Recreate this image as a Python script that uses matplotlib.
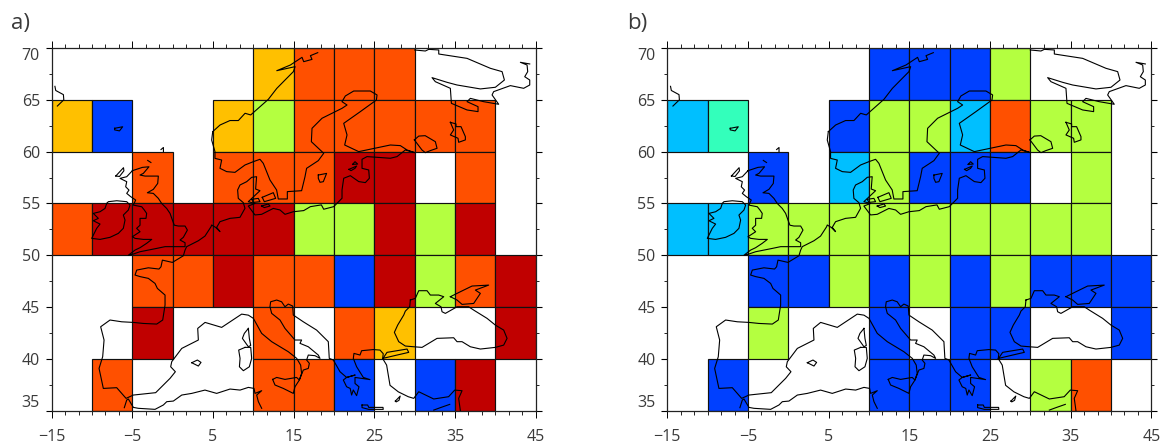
import matplotlib
matplotlib.use("Agg")
import matplotlib.pyplot as plt
from matplotlib.patches import Rectangle
from matplotlib.ticker import MultipleLocator, FixedLocator

lon_starts = [-15, -10, -5, 0, 5, 10, 15, 20, 25, 30, 35, 40]
lat_starts = [65, 60, 55, 50, 45, 40, 35]
cell_size = 5
x_major = [-15, -5, 5, 15, 25, 35, 45]
y_major = [35, 40, 45, 50, 55, 60, 65, 70]

palette = {"A": "#FFC000", "O": "#FF5000", "R": "#C00000", "G": "#B4FF40",
           "B": "#0040FF", "C": "#00BFFF", "Q": "#33FFBB"}

panel_a = ["     AOOO   ",
           "AB  AGOOOOO ",
           "  O OOORR O ",
           "ORRRRRGGRGR ",
           "  OOROOBRGOR",
           "  R  O OA  R",
           " O   OOB BR "]
panel_b = ["     BBBG   ",
           "CQ  BGGCOGG ",
           "  B CGBBB G ",
           "CCGGGGGGGGG ",
           "  BBGBGBGBBB",
           "  G  B BB  B",
           " B   BBB GO "]

iceland = [(-14.6,66.3),(-14.5,65.9),(-13.55,65.5),(-13.5,65),(-14.3,64.4)]
faroe = [(-7.2,62.25),(-6.2,62.4),(-6.6,62.0),(-7.2,62.1),(-7.2,62.25)]
shetland = [(-1.45,60.2),(-1.15,60.4),(-1.15,60.0)]
hebrides = [(-7.05,57.65),(-6.1,58.45),(-6.05,58.15),(-6.6,57.6),(-7.05,57.65)]
orkney = [(-3.1,59.15),(-2.7,58.95)]
britain = [(-5.0,58.16),(-3.76,58.48),(-2.94,58.54),(-3.64,57.9),(-4.05,57.74),(-3.43,57.64),
           (-1.78,57.64),(-1.86,56.93),(-2.4,56.36),(-3.14,56.03),(-2.4,55.97),(-1.78,55.49),
           (-1.37,55.0),(-0.75,54.52),(-0.33,54.04),(-0.04,53.4),(0.2,52.9),(0.7,52.82),
           (1.53,52.82),(1.82,52.43),(1.32,51.73),(0.91,51.47),(1.53,51.21),(1.53,50.83),
           (-0.13,50.83),(-0.95,50.83),(-1.99,50.66),(-3.02,50.5),(-4.05,50.34),(-4.88,50.12),
           (-5.5,50.0),(-4.67,50.5),(-4.05,50.73),(-3.23,51.15),(-2.6,51.53),(-3.64,51.53),
           (-4.67,51.63),(-5.0,51.79),(-4.05,52.27),(-4.47,52.6),(-4.05,52.9),(-4.05,53.56),
           (-3.31,53.56),(-3.23,54.04),(-3.51,54.36),(-3.84,54.68),(-4.88,54.84),(-4.59,55.33),
           (-5.2,55.65),(-5.7,55.97),(-5.42,56.29),(-5.83,56.61),(-5.7,57.1),(-6.53,57.42),
           (-5.7,57.58),(-5.0,58.16)]
ireland = [(-8.18,55.0),(-8.39,54.52),(-9.01,54.2),(-9.84,54.04),(-9.22,53.56),(-9.84,53.33),
           (-9.01,53.01),(-9.42,52.6),(-10.04,51.63),(-9.01,51.53),(-7.77,51.73),(-6.74,52.11),
           (-6.12,52.6),(-5.91,53.4),(-6.12,53.88),(-5.5,54.36),(-5.29,54.84),(-5.7,55.17),
           (-6.94,55.26),(-7.98,55.17),(-8.18,55.0)]
norway_north = [(4.96,61.93),(5.87,62.57),(7.1,63.0),(8.14,63.0),(8.97,63.7),(9.67,63.54),
                (10.6,64.18),(11.86,65.05),(12.9,66.1),(14.13,67.07),(14.96,67.72),(15.17,68.2),
                (12.9,67.81),(14.59,68.36),(16.03,69.1),(16.24,68.68),(17.27,68.9),(17.07,69.26),
                (17.98,69.55)]
scandinavia = [(4.96,61.93),(4.83,61.12),(5.24,60.0),(5.24,59.35),(6.07,59.19),(5.86,58.39),
               (6.69,58.07),(7.72,58.0),(8.96,58.71),(9.99,59.03),(10.82,59.26),(11.23,58.87),
               (12.06,57.26),(12.88,56.3),(13.09,55.43),(14.21,55.43),(14.21,56.14),(15.98,56.23),
               (16.4,57.58),(16.6,58.39),(18.05,59.13),(18.72,59.84),(17.19,60.96),(17.27,62.25),
               (18.51,63.22),(20.99,64.18),(21.61,64.5),(20.99,64.82),(21.4,65.37),(22.44,65.85),
               (24.5,65.85),(25.33,65.47),(25.25,64.98),(23.26,63.86),(21.2,62.73),(21.61,61.61),
               (21.32,60.64),(23.06,60.0),(26.98,60.64),(28.22,60.58),(29.05,60.16),(30.0,59.9),
               (28.84,60.16),(27.81,59.52),(26.98,59.36),(24.09,59.52),(23.47,59.26),(23.47,58.39),
               (24.3,58.23),(24.38,57.43),(23.88,57.01),(23.06,57.11),(22.02,57.68),(21.2,57.43),
               (20.99,56.3),(20.99,55.5),(19.96,54.69),(18.72,54.44),(18.43,54.86),(17.07,54.69),
               (16.24,54.31),(14.95,54.2),(13.92,53.95),(13.3,54.37),(12.47,54.52),(11.02,53.95),
               (10.2,53.89),(9.37,54.75),(10.2,55.0),(9.37,55.17),(10.82,56.23),(10.28,56.39),
               (10.4,57.58),(9.79,57.52),(9.17,57.1),(8.34,56.78),(8.05,56.3),(8.13,55.49),
               (8.75,55.08),(8.96,54.53),(8.34,53.66),(7.1,53.56),(5.86,53.24),(5.45,52.69),
               (5.86,52.28),(5.32,52.69),(4.83,52.92),(4.75,52.75),(4.0,51.85),(3.18,51.4),
               (1.73,50.83),(1.53,50.5),(1.32,49.95),(-0.04,49.31),(-1.28,49.53),(-1.45,48.89),
               (-1.7,48.67),(-3.02,48.79),(-4.46,48.57),(-4.67,48.09),(-4.05,47.94),(-3.02,47.77),
               (-2.19,47.28),(-1.9,46.8),(-0.95,46.16),(-0.95,45.19),(-1.24,43.75),(-1.98,43.36),
               (-3.64,43.42),(-4.88,43.52),(-6.32,43.58),(-7.77,43.75),(-8.93,43.1),(-8.51,41.82),
               (-8.68,40.21),(-9.13,39.08),(-8.6,37.15),(-6.94,37.22),(-5.78,36.19),(-4.88,36.51),
               (-2.11,36.74),(-0.33,38.12),(0.33,38.76),(-0.25,39.24),(-0.12,39.73),(1.12,41.01),
               (3.18,41.82),(3.1,42.94),(4.01,43.52),(6.07,43.04),(8.55,44.32),(9.38,44.22),
               (10.0,43.91),(11.03,42.46),(12.27,41.66),(14.33,40.69),(15.37,40.05),(15.86,39.4),
               (15.98,38.6),(15.7,37.96),(16.19,38.92),(16.81,39.08),(16.94,39.57),(16.6,39.89),
               (16.81,40.37),(17.64,40.31),(18.26,40.05),(18.05,40.37),(16.81,41.17),(15.78,41.5),
               (15.98,41.82),(15.16,41.82),(13.92,42.94),(13.3,43.75),(12.27,44.39),(12.06,45.03),
               (12.14,45.51),(12.89,45.68),(13.5,45.51),(13.92,45.03),(14.33,45.29),(14.87,45.1),
               (14.95,44.23),(16.19,43.58),(17.84,42.78),(19.29,41.66),(19.41,40.05),(19.91,39.89),
               (20.74,38.76),(21.56,38.21),(22.6,38.44),(21.56,38.21),(21.15,37.96),(21.56,37.31),
               (22.0,37.15),(22.18,36.51),(22.39,37.0),(22.8,36.45),(23.09,37.31),(22.6,37.63),
               (22.6,38.21),(24.46,38.0),(23.63,38.21),(22.8,39.24),(22.39,40.05),(22.47,40.53),
               (23.22,40.37),(23.42,40.79),(24.87,40.9),(25.7,40.85),(26.1,40.5),(26.03,40.04)]
anatolia = [(26.03,40.03),(26.52,39.4),(26.73,38.42),(26.94,37.45),(27.97,36.82),(29.2,36.35),
            (29.88,36.19),(30.5,36.83),(32.36,36.13),(34.2,36.35),(34.96,36.99),(35.87,36.93),
            (35.45,36.19),(35.66,35.0)]
cyprus = [(32.36,35.06),(33.2,35.3),(34.34,35.61)]
crete = [(23.47,35.55),(24.17,35.55),(24.3,35.32),(26.07,35.32),(26.1,35.13),(24.3,35.13),
         (23.47,35.3),(23.47,35.55)]
rhodes = [(27.6,35.93),(28.2,36.41),(28.05,36.0),(27.7,35.85),(27.6,35.93)]
marmara = [(26.07,40.05),(26.57,40.63),(29.05,40.95),(29.26,40.63),(27.81,40.37),(26.07,40.05)]
black_sea = [(29.46,45.68),(29.38,45.03),(28.84,44.61),(28.64,44.23),(27.89,43.26),(27.48,42.56),
             (28.02,41.66),(28.84,41.24),(29.88,41.17),(30.91,41.11),(32.77,41.98),(34.83,42.04),
             (35.25,41.66),(35.87,41.66),(36.9,41.17),(38.14,40.95),(40.0,41.11),(41.03,41.33),
             (41.45,41.98),(41.03,42.78),(40.0,43.26),(38.97,43.91),(37.31,44.71),(36.69,45.03),
             (35.25,45.03),(33.8,44.39),(33.39,44.55),(33.26,45.03),(32.56,45.35),(33.6,46.0),
             (32.98,46.16),(31.94,46.16),(31.53,46.58),(30.5,46.58),(30.08,45.84),(29.46,45.68)]
azov = [(34.42,46.0),(35.25,45.68),(35.87,45.26),(37.31,45.35),(38.14,46.32),(37.52,46.64),
        (39.17,47.12),(37.11,47.03),(35.66,46.48),(34.42,46.0)]
sicily = [(12.39,38.02),(12.89,38.21),(13.92,38.02),(15.36,38.21),(15.7,37.96),(15.16,37.31),
          (14.95,36.67),(13.71,37.15),(12.68,37.48),(12.39,38.02)]
corsica = [(9.38,42.94),(8.88,42.46),(8.64,41.98),(9.38,41.17),(9.67,41.3),(9.5,41.98),(9.38,42.94)]
sardinia = [(8.97,41.11),(8.18,40.85),(8.35,40.05),(8.27,39.24),(8.76,38.86),(9.5,39.24),
            (9.79,40.05),(9.67,41.11),(8.97,41.11)]
majorca = [(2.36,39.63),(3.06,39.89),(3.51,39.66),(3.18,39.31),(2.36,39.63)]
north_africa = [(-6.0,35.29),(-5.7,36.03),(-5.5,36.13),(-4.88,35.32),(-4.26,35.23),(-2.19,35.13),
                (-1.16,35.55),(-0.74,35.87),(0.08,35.93),(1.12,36.51),(2.36,36.67),(4.0,36.99),
                (5.45,36.67),(7.11,37.09),(8.35,36.99),(9.38,37.25),(10.08,37.15),(10.2,36.67),
                (11.03,36.93),(10.41,36.51),(10.62,35.87),(11.03,35.23)]
gotland = [(18.05,57.74),(19.08,57.9),(18.67,57.1),(18.26,57.04),(18.05,57.42),(18.05,57.74)]
hiiumaa = [(22.3,58.77),(22.6,59.03),(22.93,58.8),(22.3,58.77)]
saaremaa = [(21.85,58.29),(22.8,58.61),(22.6,58.39),(22.1,58.16),(21.85,58.29)]
sjaelland = [(11.1,55.59),(12.47,56.04),(12.76,55.49),(11.36,55.17),(11.1,55.59)]
funen = [(9.79,55.4),(10.61,55.49),(10.82,55.17),(9.99,55.1),(9.79,55.4)]
lolland = [(11.02,54.75),(11.85,54.95),(12.06,54.75),(11.36,54.6),(11.02,54.75)]
kola = [(30.0,69.81),(31.32,69.71),(31.74,69.87),(32.98,69.81),(32.98,69.42),(36.49,69.0),
        (39.38,68.04),(40.83,67.72),(41.12,66.91),(40.0,66.21),(38.14,66.05),(35.25,66.43),
        (34.0,66.69),(32.15,67.14),(32.56,66.75),(34.42,66.11),(34.55,64.66),(36.49,64.02),
        (37.85,63.86),(37.85,64.34),(36.49,64.82),(36.9,65.14),(38.55,64.82),(40.41,64.57),
        (39.59,65.47),(39.79,65.79),(41.86,66.37),(43.51,66.11),(44.26,66.43),(44.26,66.91),
        (43.64,67.23),(44.01,67.72),(43.93,68.36),(43.1,68.62),(44.26,68.46)]
ladoga = [(29.96,61.13),(30.5,61.5),(31.3,61.54),(32.56,60.96),(32.77,60.32),(31.94,60.1),
          (31.32,59.9),(30.9,60.16),(29.96,61.13)]
onega = [(34.42,62.83),(35.12,62.67),(35.12,62.41),(35.74,62.41),(36.28,61.45),(36.28,61.13),
         (35.45,60.9),(35.37,61.29),(34.42,61.61),(34.83,62.09),(34.42,62.83)]

coasts = [iceland, faroe, shetland, hebrides, orkney, britain, ireland, norway_north, scandinavia,
          anatolia, cyprus, crete, rhodes, marmara, black_sea, azov, sicily, corsica, sardinia,
          majorca, north_africa, gotland, hiiumaa, saaremaa, sjaelland, funen, lolland, kola,
          ladoga, onega]

W, H = 1163, 445
fig = plt.figure(figsize=(W / 100, H / 100), dpi=100, facecolor="white")
plt.rcParams["font.family"] = ["Open Sans", "Liberation Sans", "DejaVu Sans"]
plt.rcParams["font.weight"] = "normal"
text_color = "#3a3a3a"


def draw(left_px, rows, tag, tag_x):
    ax = fig.add_axes([left_px / W, 1 - 410.7 / H, 484 / W, 362.7 / H])
    ax.set_xlim(-15, 45)
    ax.set_ylim(35, 70)
    for lat, row in zip(lat_starts, rows):
        for lon, code in zip(lon_starts, row):
            if code != " ":
                ax.add_patch(Rectangle((lon, lat), cell_size, cell_size, facecolor=palette[code],
                                       edgecolor="#111111", linewidth=0.85, zorder=2))
    for coast in coasts:
        ax.plot([p[0] for p in coast], [p[1] for p in coast], color="black", lw=0.8,
                zorder=3, solid_joinstyle="round")
    ax.xaxis.set_major_locator(FixedLocator(x_major))
    ax.xaxis.set_minor_locator(MultipleLocator(5 / 3))
    ax.yaxis.set_major_locator(FixedLocator(y_major))
    ax.yaxis.set_minor_locator(MultipleLocator(2.5))
    ax.tick_params(axis="x", which="major", direction="out", top=True, bottom=True, length=5,
                   width=0.7, pad=8, labelsize=11.5, labelcolor=text_color)
    ax.tick_params(axis="x", which="minor", direction="out", top=True, bottom=True, length=3, width=0.6)
    ax.tick_params(axis="y", which="major", direction="out", left=True, right=True, length=4,
                   width=0.8, pad=4.5, labelsize=11.5, labelcolor=text_color)
    ax.tick_params(axis="y", which="minor", direction="out", left=True, right=True, length=2, width=0.6)
    ax.set_xticklabels([str(v).replace("-", "\u2212") for v in x_major])
    labels = ax.set_yticklabels([str(v) for v in y_major])
    labels[0].set_va("bottom")
    labels[-1].set_va("top")
    for s in ax.spines.values():
        s.set_linewidth(0.9)
        s.set_color("#222222")
        s.set_zorder(4)
    fig.text(tag_x / W, 1 - 29 / H, tag, fontsize=16, color=text_color, ha="left", va="baseline")


draw(51.7, panel_a, "a)", 11)
draw(667.3, panel_b, "b)", 627)
fig.savefig("out.png", dpi=100)
